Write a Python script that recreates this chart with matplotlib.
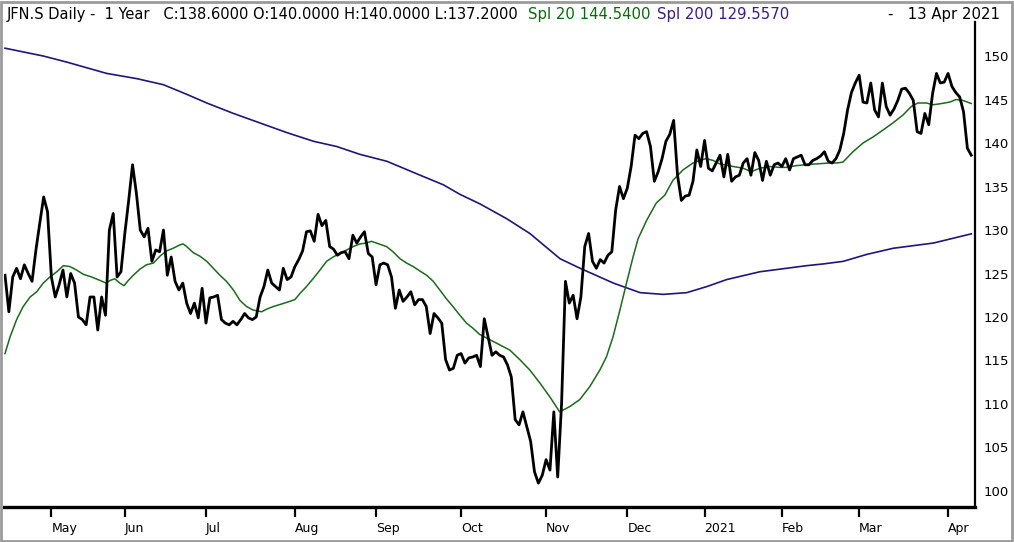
import matplotlib
matplotlib.use("Agg")
import matplotlib.pyplot as plt
from matplotlib.patches import Rectangle
from matplotlib import font_manager
import pandas as pd
import numpy as np

# ---------------- data ----------------
start_date = "2020-04-15"
end_date = "2021-04-13"
holidays = ["2020-05-01", "2020-05-21", "2020-06-01", "2020-12-24", "2020-12-25",
            "2020-12-31", "2021-01-01", "2021-04-02", "2021-04-05"]

close = [
    124.8, 120.6, 124.6, 125.6, 124.4, 126.0, 125.0, 124.1, 127.7, 130.8,
    133.8, 132.1, 124.6, 122.3, 123.7, 125.4, 122.3, 125.0, 123.9, 120.0,
    119.7, 119.1, 122.3, 122.3, 118.5, 122.3, 120.2, 130.0, 131.9, 124.6,
    125.2, 129.6, 133.4, 137.5, 134.2, 130.0, 129.2, 130.2, 126.4, 127.7,
    127.5, 130.0, 124.8, 126.9, 124.1, 123.1, 123.9, 121.6, 120.4, 121.6,
    119.9, 123.3, 119.3, 122.2, 122.3, 122.5, 119.7, 119.3, 119.1, 119.5,
    119.1, 119.7, 120.4, 119.9, 119.7, 120.0, 122.3, 123.5, 125.4, 123.9,
    123.5, 123.1, 125.6, 124.3, 124.6, 125.8, 126.6, 127.6, 129.8, 129.9,
    128.7, 131.8, 130.5, 131.1, 128.1, 127.8, 127.1, 127.4, 127.5, 126.7,
    129.4, 128.5, 129.2, 129.8, 127.3, 126.9, 123.7, 126.0, 126.2, 126.0,
    124.6, 121.0, 123.1, 121.8, 122.3, 122.9, 121.4, 122.0, 122.0, 121.2,
    118.1, 120.4, 119.9, 119.3, 115.1, 113.9, 114.1, 115.6, 115.8, 114.7,
    115.3, 115.4, 115.6, 114.3, 119.8, 117.7, 115.6, 116.0, 115.6, 115.4,
    114.5, 113.1, 108.2, 107.6, 109.1, 107.4, 105.7, 102.2, 100.9, 101.8,
    103.6, 102.4, 109.1, 101.6, 110.0, 124.1, 121.6, 122.5, 119.8, 122.3,
    128.1, 129.6, 126.4, 125.6, 126.6, 126.2, 127.1, 127.5, 132.3, 135.0,
    133.6, 134.8, 137.3, 140.9, 140.5, 141.1, 141.3, 139.6, 135.6, 136.7,
    138.2, 140.2, 141.0, 142.6, 136.3, 133.4, 133.9, 134.0, 135.6, 139.2,
    137.3, 140.3, 137.1, 136.8, 137.7, 138.6, 136.1, 138.7, 135.6, 136.1,
    136.3, 137.7, 138.2, 136.3, 138.9, 138.0, 135.7, 137.9, 136.3, 137.5,
    137.7, 137.3, 138.2, 136.9, 138.2, 138.4, 138.6, 137.5, 137.5, 138.0,
    138.2, 138.5, 139.0, 137.9, 137.7, 138.2, 139.2, 141.1, 143.8, 145.8,
    146.9, 147.8, 144.7, 144.6, 146.9, 143.8, 143.0, 146.9, 144.2, 143.2,
    143.9, 144.9, 146.2, 146.3, 145.7, 144.9, 141.3, 141.1, 143.4, 142.1,
    145.7, 148.0, 146.9, 147.0, 148.0, 146.5, 145.8, 145.3, 143.6, 139.4,
    138.6,
]

# SMA 20 read at sample bars (bar number within the trading-day list)
sma20_bar = [0, 1.3, 3, 4.7, 6.5, 8.2, 9.9, 11.6, 13.4, 15.1, 16.8, 18.5, 20.3, 22.4,
             24.6, 26.1, 27.2, 28.4, 29.7, 30.8, 31.9, 33.2, 34.9, 36.6, 38.4, 40.1,
             41.8, 43.5, 45.3, 46.1, 47, 48.7, 50.4, 52.2, 53.9, 55.6, 57.3, 59.1,
             60.8, 62.5, 64.2, 66.4, 67.7, 69.4, 71.6, 73.7, 75, 76.3, 78, 79.7, 81.5,
             83.2, 84.9, 86.6, 88.4, 90.1, 91.8, 93.5, 94.8, 96.1, 98.7, 100.4, 102.2,
             103.9, 105.6, 107.3, 109.1, 110.8, 112.5, 114.2, 115.9, 117.7, 119.4,
             121.1, 122.8, 125.4, 128, 130.6, 133.2, 135.8, 138.4, 141, 143.5, 146.1,
             148.7, 151.3, 153.9, 155.6, 157.3, 159.1, 160.8, 162.5, 163.8, 166,
             168.5, 170.7, 172.8, 175.4, 178, 179.7, 181.4, 183.2, 184.9, 188.4, 191,
             193.1, 195.3, 197.8, 200.4, 202.2, 204.7, 207.3, 209.9, 213.4, 215.1,
             216.8, 219.4, 222, 224.6, 227.2, 229.7, 232.3, 234.5, 236.2, 238.4,
             240.1, 241.8, 244.4, 246.1, 247.8, 250]
sma20_val = [115.8, 117.7, 119.7, 121.2, 122.3, 122.9, 123.9, 124.6, 125.2, 125.9,
             125.8, 125.4, 124.9, 124.6, 124.2, 123.9, 124.2, 124.4, 123.9, 123.6,
             124.2, 124.8, 125.5, 126.0, 126.2, 127.0, 127.6, 127.9, 128.3, 128.4,
             128.1, 127.4, 127.0, 126.4, 125.6, 124.8, 124.1, 123.1, 121.9, 121.2,
             120.8, 120.6, 120.9, 121.2, 121.5, 121.8, 122.0, 122.7, 123.5, 124.4,
             125.4, 126.4, 126.9, 127.3, 127.7, 128.1, 128.4, 128.5, 128.7, 128.5,
             128.1, 127.5, 126.7, 126.2, 125.8, 125.3, 124.8, 124.1, 123.1, 122.1,
             121.2, 120.2, 119.3, 118.7, 118.0, 117.4, 116.8, 116.2, 115.1, 113.9,
             112.4, 110.8, 109.1, 109.7, 110.5, 112.0, 113.9, 115.4, 117.7, 120.8,
             123.9, 126.9, 129.0, 131.1, 133.1, 134.0, 135.7, 136.9, 137.7, 138.0,
             138.2, 138.0, 137.6, 137.3, 137.1, 136.7, 137.1, 137.3, 137.2, 137.2,
             137.4, 137.5, 137.6, 137.7, 137.7, 137.8, 139.0, 140.0, 140.7, 141.5,
             142.3, 143.2, 144.2, 144.6, 144.6, 144.4, 144.5, 144.7, 145.0, 144.9,
             144.54]

# SMA 200 read at sample bars
sma200_bar = [0, 9.9, 16, 26.3, 34.1, 41, 47, 52.2, 59.1, 66, 72.9, 79.8, 85.8, 91.8,
              98.8, 107.4, 113.4, 117.7, 122.9, 129.8, 135.8, 143.6, 148.8, 157.4,
              164.3, 170.3, 176.4, 181.6, 186.7, 195.3, 207.4, 211.7, 216.9, 223,
              229.8, 240.2, 250]
sma200_val = [150.9, 150.0, 149.3, 148.0, 147.4, 146.7, 145.6, 144.6, 143.4, 142.3,
              141.2, 140.2, 139.6, 138.7, 137.9, 136.3, 135.2, 134.1, 133.0, 131.3,
              129.6, 126.7, 125.6, 123.9, 122.8, 122.6, 122.8, 123.5, 124.3, 125.2,
              125.9, 126.1, 126.4, 127.2, 127.9, 128.5, 129.557]

month_labels = ["May", "Jun", "Jul", "Aug", "Sep", "Oct", "Nov", "Dec", "2021",
                "Feb", "Mar", "Apr"]
y_ticks = [100, 105, 110, 115, 120, 125, 130, 135, 140, 145, 150]

header_main = "JFN.S Daily -  1 Year   C:138.6000 O:140.0000 H:140.0000 L:137.2000"
header_sma20 = "Spl 20 144.5400"
header_sma200 = "Spl 200 129.5570"
header_date = "-   13 Apr 2021"

# ---------------- build ----------------
days = pd.bdate_range(start_date, end_date)
days = days[~days.isin(pd.to_datetime(holidays))]
bars = np.arange(len(days))
month_start = [i for i in range(1, len(days)) if days[i].month != days[i - 1].month]

avail = {f.name for f in font_manager.fontManager.ttflist}
xfont = "Liberation Sans Narrow" if "Liberation Sans Narrow" in avail else "DejaVu Sans"

W, H = 1014, 542
fig = plt.figure(figsize=(W / 100, H / 100), dpi=100)
fig.patch.set_facecolor("white")
ax = fig.add_axes([4 / W, 1 - 507 / H, (975 - 4) / W, (507 - 22) / H])

ax.plot(sma200_bar, sma200_val, color="#22157a", lw=1.2, zorder=2)
ax.plot(sma20_bar, sma20_val, color="#1a6b1a", lw=1.1, zorder=3)
ax.plot(bars, close, color="black", lw=2.0, zorder=4)

ax.set_xlim(-0.26, 250.97)
ax.set_ylim(98.16, 153.91)

ax.yaxis.tick_right()
ax.set_yticks(y_ticks)
ax.set_yticklabels([str(v) for v in y_ticks])
ax.tick_params(axis="y", length=0, pad=6, labelsize=9.5, colors="black")

ax.set_xticks(month_start)
ax.set_xticklabels(month_labels, ha="left", fontfamily=xfont)
ax.tick_params(axis="x", direction="out", length=7, width=1.6, pad=4,
               labelsize=10 if xfont != "DejaVu Sans" else 9)

for s in ["left", "top"]:
    ax.spines[s].set_visible(False)
ax.spines["bottom"].set_linewidth(2.4)
ax.spines["right"].set_linewidth(1.6)

# header
fs = 10.7
fig.text(7 / W, 1 - 14 / H, header_main, fontsize=10.55, color="black", va="center")
fig.text(528 / W, 1 - 14 / H, header_sma20, fontsize=fs, color="#0b6a0b", va="center")
fig.text(657 / W, 1 - 14 / H, header_sma200, fontsize=fs, color="#3b1c8c", va="center")
fig.text(1000 / W, 1 - 14 / H, header_date, fontsize=fs, color="black", va="center", ha="right")

# frame
fig.add_artist(Rectangle((1 / W, 1 / H), (W - 3) / W, (H - 3) / H, transform=fig.transFigure,
                         fill=False, edgecolor="#9a9a9a", lw=2))

fig.savefig("out.png", dpi=100)
